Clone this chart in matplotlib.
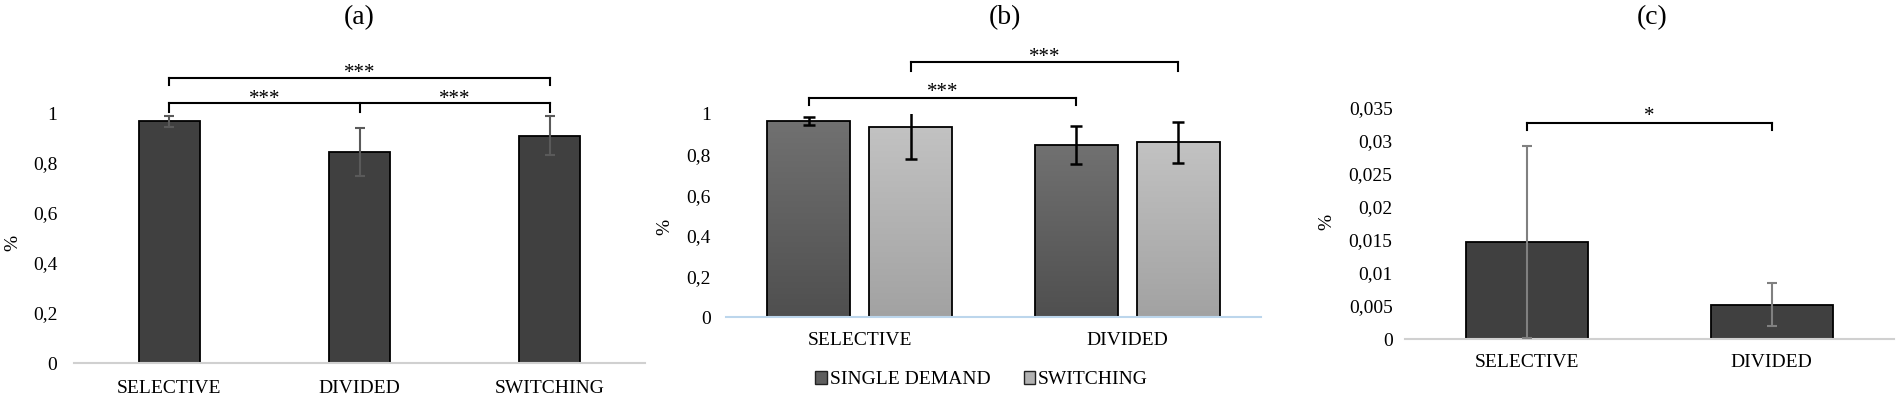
import numpy as np
import matplotlib
matplotlib.use('Agg')
import matplotlib.pyplot as plt
from matplotlib.colors import LinearSegmentedColormap
from matplotlib.patches import Patch

plt.rcParams['font.family'] = ['Liberation Serif', 'DejaVu Serif']

# (a) mean proportion per condition
a_labels = ['SELECTIVE', 'DIVIDED', 'SWITCHING']
a_means = [0.967, 0.844, 0.910]
a_err = [0.022, 0.095, 0.079]

# (b) single demand vs switching
b_groups = ['SELECTIVE', 'DIVIDED']
b_series = ['SINGLE DEMAND', 'SWITCHING']
b_single = [0.967, 0.846]
b_single_err = [0.020, 0.094]
b_switch = [0.934, 0.861]
b_switch_err = [0.155, 0.100]

# (c) small proportions
c_labels = ['SELECTIVE', 'DIVIDED']
c_means = [0.0147, 0.0052]
c_err = [0.0146, 0.0033]

W, H = 1901, 399
fig = plt.figure(figsize=(W / 100, H / 100), dpi=100)


def px_axes(x0, x1, y_zero, y_top):
    return fig.add_axes([x0 / W, (H - y_zero) / H, (x1 - x0) / W, (y_zero - y_top) / H])


def style(ax, line_color, ypad, xpad):
    for s in ['top', 'right', 'left']:
        ax.spines[s].set_visible(False)
    ax.spines['bottom'].set_color(line_color)
    ax.spines['bottom'].set_linewidth(1.5)
    ax.tick_params(axis='both', length=0, labelsize=14)
    ax.tick_params(axis='y', pad=ypad)
    ax.tick_params(axis='x', pad=xpad)


def comma(v, _=None):
    return ('%g' % v).replace('.', ',')


def bracket(ax, x0, x1, y, drop, ticks=None):
    ax.plot([x0, x1], [y, y], color='black', lw=1.5, clip_on=False)
    for t in (ticks if ticks is not None else [x0, x1]):
        ax.plot([t, t], [y, y - drop], color='black', lw=1.5, clip_on=False)


def stars(ax, x, y, s):
    ax.text(x, y, s, ha='center', va='center', fontsize=15, clip_on=False)


def gradient_bars(ax, bars, top_color, bottom_color):
    cmap = LinearSegmentedColormap.from_list('g', [bottom_color, top_color])
    grad = np.linspace(0, 1, 256).reshape(-1, 1)
    for bar in bars:
        x, w, h = bar.get_x(), bar.get_width(), bar.get_height()
        im = ax.imshow(grad, extent=[x, x + w, 0, h], origin='lower',
                       aspect='auto', cmap=cmap, zorder=1.5)
        im.set_clip_path(bar)
        bar.set_facecolor('none')


# ---- (a)
ax = px_axes(74, 645, 363, 113)
xa = np.arange(len(a_labels))
ax.bar(xa, a_means, width=0.32, color='#404040', edgecolor='black', lw=1.3, zorder=2)
ax.errorbar(xa, a_means, yerr=a_err, fmt='none', ecolor='#5a5a5a', elinewidth=1.5,
            capsize=3.5, capthick=1.5, zorder=3)
ax.set_xlim(-0.5, 2.5)
ax.set_ylim(0, 1)
ax.set_xticks(xa, a_labels)
ax.set_yticks(np.arange(0, 1.01, 0.2))
ax.yaxis.set_major_formatter(comma)
style(ax, '#d0d0d0', 12, 12)
bracket(ax, 0, 2, 1.039, 0.035, ticks=[0, 1, 2])
bracket(ax, 0, 2, 1.139, 0.027)
stars(ax, 0.5, 1.055, '***')
stars(ax, 1.5, 1.055, '***')
stars(ax, 1.0, 1.158, '***')
ax.text(-0.107, 0.48, '%', transform=ax.transAxes, rotation=90, ha='center', va='center', fontsize=14)

# ---- (b)
ax = px_axes(726, 1261, 317, 114)
xb = np.arange(len(b_groups))
off, bw = 0.19, 0.31
bars1 = ax.bar(xb - off, b_single, width=bw, edgecolor='black', lw=1.3, zorder=2)
bars2 = ax.bar(xb + off, b_switch, width=bw, edgecolor='black', lw=1.3, zorder=2)
gradient_bars(ax, bars1, '#717171', '#4f4f4f')
gradient_bars(ax, bars2, '#c2c2c2', '#a2a2a2')
ax.errorbar(xb - off, b_single, yerr=b_single_err, fmt='none', ecolor='black', elinewidth=1.8,
            capsize=4, capthick=1.8, zorder=3)
ax.errorbar(xb + off, b_switch, yerr=b_switch_err, fmt='none', ecolor='black', elinewidth=1.8,
            capsize=4, capthick=1.8, zorder=3)
ax.set_xlim(-0.5, 1.5)
ax.set_ylim(0, 1)
ax.set_xticks(xb, b_groups)
ax.set_yticks(np.arange(0, 1.01, 0.2))
ax.yaxis.set_major_formatter(comma)
style(ax, '#bcd6ec', 11, 11)
bracket(ax, xb[0] - off, xb[1] - off, 1.079, 0.033)
bracket(ax, xb[0] + off, xb[1] + off, 1.254, 0.041)
stars(ax, 0.5 - off, 1.108, '***')
stars(ax, 0.5 + off, 1.28, '***')
ax.text(-0.114, 0.443, '%', transform=ax.transAxes, rotation=90, ha='center', va='center', fontsize=14)
handles = [Patch(facecolor='#5e5e5e', edgecolor='#222222'), Patch(facecolor='#b2b2b2', edgecolor='#222222')]
ax.legend(handles, b_series, loc='center', bbox_to_anchor=(0.478, -0.31), ncol=2, frameon=False,
          fontsize=14, handlelength=0.6, handleheight=0.6, handletextpad=0.15, columnspacing=1.7)

# ---- (c)
ax = px_axes(1405, 1894, 339, 108)
xc = np.arange(len(c_labels))
ax.bar(xc, c_means, width=0.5, color='#404040', edgecolor='black', lw=1.3, zorder=2)
ax.errorbar(xc, c_means, yerr=c_err, fmt='none', ecolor='#808080', elinewidth=1.5,
            capsize=3.5, capthick=1.5, zorder=3)
ax.set_xlim(-0.5, 1.5)
ax.set_ylim(0, 0.035)
ax.set_xticks(xc, c_labels)
ax.set_yticks(np.arange(0, 0.0351, 0.005))
ax.yaxis.set_major_formatter(comma)
style(ax, '#d0d0d0', 9, 11)
bracket(ax, 0, 1, 0.0328, 0.0012)
stars(ax, 0.5, 0.0337, '*')
ax.text(-0.16, 0.506, '%', transform=ax.transAxes, rotation=90, ha='center', va='center', fontsize=14)

# panel letters
for x, s in [(359, '(a)'), (1005, '(b)'), (1652, '(c)')]:
    fig.text(x / W, 1 - 18 / H, s, ha='center', va='center', fontsize=20)

fig.savefig('out.png', dpi=100)
